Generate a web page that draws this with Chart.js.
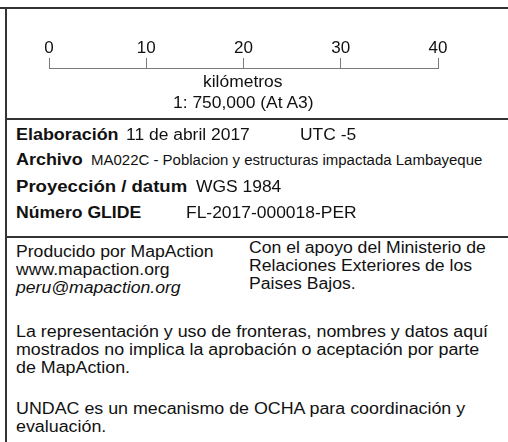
<!DOCTYPE html>
<html>
<head>
<meta charset="utf-8">
<script src="https://cdn.jsdelivr.net/npm/chart.js@4/dist/chart.umd.min.js"></script>
<style>
html,body{margin:0;padding:0;background:#fff;width:508px;height:442px;overflow:hidden;}
#wrap{position:relative;width:508px;height:442px;font-family:"Liberation Sans",Arial,sans-serif;color:#111;}
.t{position:absolute;white-space:nowrap;font-size:16px;line-height:16px;transform-origin:0 50%;}
.b{font-weight:bold;}
.hl{position:absolute;height:0;border-top:2px solid #333;}
.vl{position:absolute;width:0;border-left:2px solid #333;}
#cv{position:absolute;left:0;top:20px;}
</style>
</head>
<body>
<div id="wrap">
  <div class="hl" style="left:0;top:7px;width:508px;"></div>
  <div class="vl" style="left:5px;top:7px;height:435px;"></div>
  <div class="hl" style="left:5px;top:118px;width:503px;"></div>
  <div class="hl" style="left:5px;top:236px;width:503px;"></div>
  <canvas id="cv" width="508" height="60"></canvas>
  <div id="texts"></div>
</div>
<script>
// scale bar (km)
const scaleTicks = [0, 10, 20, 30, 40];
const scaleUnit = "kilómetros";
const scaleRatio = "1: 750,000 (At A3)";

// metadata rows
const metaLabels = ["Elaboración", "Archivo", "Proyección / datum", "Número GLIDE"];
const metaValues = ["11 de abril 2017", "MA022C - Poblacion y estructuras impactada Lambayeque", "WGS 1984", "FL-2017-000018-PER"];
const metaExtra = "UTC -5";

// credits
const creditsLeft = ["Producido por MapAction", "www.mapaction.org", "peru@mapaction.org"];
const creditsRight = ["Con el apoyo del Ministerio de", "Relaciones Exteriores de los", "Paises Bajos."];
const disclaimer = ["La representación y uso de fronteras, nombres y datos aquí", "mostrados no implica la aprobación o aceptación por parte", "de MapAction."];
const undac = ["UNDAC es un mecanismo de OCHA para coordinación y", "evaluación."];

const T = document.getElementById('texts');
function addText(txt, x, yc, opts) {
  opts = opts || {};
  const d = document.createElement('div');
  d.className = 't' + (opts.bold ? ' b' : '');
  d.textContent = txt;
  d.style.left = x + 'px';
  d.style.top = (yc - 8) + 'px';
  if (opts.size) d.style.fontSize = opts.size + 'px';
  if (opts.italic) d.style.fontStyle = 'italic';
  d.style.transform = 'scaleX(' + (opts.sx || 1.1) + ')';
  T.appendChild(d);
  return d;
}
function addCentered(txt, cx, yc, sx) {
  const d = addText(txt, 0, yc, {sx: sx});
  const w = d.getBoundingClientRect().width;
  d.style.left = (cx - w / 2) + 'px';
}

addCentered(scaleUnit, 243, 82, 1.09);
addCentered(scaleRatio, 243, 103, 1.09);

const metaY = [135, 160, 187, 213];
const valueX = [126, 91, 196, 186];
const labelSx = [1.12, 1.12, 1.16, 1.1];
for (let i = 0; i < metaLabels.length; i++) {
  addText(metaLabels[i], 16, metaY[i], {bold: true, sx: labelSx[i]});
  addText(metaValues[i], valueX[i], metaY[i], {size: i === 1 ? 14 : 16, sx: i === 1 ? 1.07 : 1.09});
}
addText(metaExtra, 300, metaY[0], {sx: 1.09});

const cY = [252, 270, 288];
creditsLeft.forEach((s, i) => addText(s, 16, cY[i], {italic: i === 2, sx: 1.1}));
const rY = [248, 266, 284];
creditsRight.forEach((s, i) => addText(s, 249, rY[i], {sx: 1.1}));
const dY = [332, 350, 368];
disclaimer.forEach((s, i) => addText(s, 16, dY[i], {sx: 1.115}));
const uY = [409, 427];
undac.forEach((s, i) => addText(s, 16, uY[i], {sx: 1.115}));

new Chart(document.getElementById('cv'), {
  type: 'line',
  data: { datasets: [{ data: [], borderWidth: 0, pointRadius: 0 }] },
  options: {
    responsive: false,
    animation: false,
    events: [],
    layout: { padding: { left: 49, right: 70, top: 0, bottom: 0 } },
    plugins: { legend: { display: false }, tooltip: { enabled: false } },
    scales: {
      x: {
        type: 'linear',
        position: 'top',
        min: scaleTicks[0],
        max: scaleTicks[scaleTicks.length - 1],
        afterBuildTicks: s => { s.ticks = scaleTicks.map(v => ({ value: v })); },
        afterFit: s => { s.height = 48; },
        border: { display: true, color: '#7a7a7a', width: 1 },
        grid: { drawOnChartArea: false, drawTicks: true, tickLength: 10, color: '#7a7a7a', lineWidth: 1 },
        ticks: { color: '#111', padding: -1, maxRotation: 0, font: { family: 'Liberation Sans', size: 17 } }
      },
      y: { display: false, min: 0, max: 1 }
    }
  }
});
</script>
</body>
</html>
